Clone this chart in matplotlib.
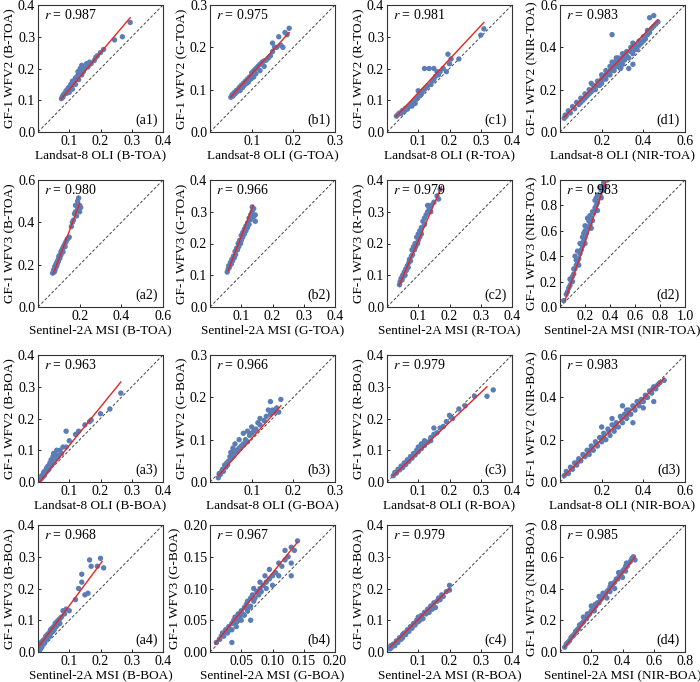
import numpy as np
import matplotlib
matplotlib.use('Agg')
from matplotlib import pyplot as plt
from matplotlib.ticker import FuncFormatter

plt.rcParams['font.family'] = ['Liberation Serif', 'DejaVu Serif']
plt.rcParams['mathtext.fontset'] = 'stix'

# scatter points, one list per panel
a1_pts = [(0.075,0.105),(0.078,0.112),(0.08,0.11),(0.082,0.118),(0.085,0.12),(0.088,0.125),(0.09,0.13),(0.092,0.122),(0.095,0.135),(0.098,0.14),(0.10,0.14),(0.10,0.125),(0.105,0.15),(0.108,0.145),(0.11,0.16),(0.11,0.135),(0.115,0.155),(0.118,0.165),(0.12,0.17),(0.12,0.15),(0.125,0.175),(0.128,0.19),(0.13,0.165),(0.13,0.185),(0.135,0.2),(0.14,0.18),(0.14,0.21),(0.145,0.19),(0.15,0.2),(0.155,0.215),(0.16,0.205),(0.165,0.22),(0.17,0.215),(0.18,0.225),(0.185,0.235),(0.19,0.24),(0.20,0.25),(0.21,0.26),(0.245,0.29),(0.27,0.30),(0.295,0.345)]
b1_pts = [(0.05,0.082),(0.053,0.088),(0.055,0.085),(0.058,0.093),(0.06,0.09),(0.063,0.098),(0.065,0.095),(0.068,0.1),(0.07,0.105),(0.072,0.098),(0.075,0.11),(0.078,0.105),(0.08,0.115),(0.082,0.11),(0.085,0.12),(0.088,0.115),(0.09,0.125),(0.092,0.118),(0.095,0.13),(0.098,0.125),(0.1,0.14),(0.1,0.128),(0.105,0.145),(0.105,0.13),(0.11,0.15),(0.11,0.138),(0.115,0.155),(0.12,0.16),(0.12,0.145),(0.125,0.165),(0.13,0.168),(0.13,0.155),(0.135,0.17),(0.14,0.175),(0.145,0.18),(0.15,0.19),(0.15,0.21),(0.155,0.2),(0.16,0.2),(0.165,0.225),(0.17,0.205),(0.175,0.2),(0.18,0.235),(0.185,0.23),(0.19,0.245)]
c1_pts = [(0.03,0.05),(0.035,0.055),(0.04,0.06),(0.045,0.058),(0.05,0.068),(0.055,0.065),(0.06,0.075),(0.065,0.072),(0.07,0.08),(0.075,0.085),(0.08,0.09),(0.08,0.082),(0.085,0.095),(0.09,0.1),(0.09,0.09),(0.095,0.105),(0.1,0.11),(0.1,0.13),(0.105,0.115),(0.11,0.12),(0.115,0.13),(0.12,0.135),(0.12,0.2),(0.125,0.14),(0.13,0.145),(0.135,0.2),(0.14,0.15),(0.145,0.16),(0.15,0.165),(0.15,0.2),(0.155,0.175),(0.16,0.19),(0.165,0.18),(0.17,0.19),(0.18,0.2),(0.19,0.19),(0.195,0.245),(0.2,0.215),(0.205,0.23),(0.23,0.23),(0.3,0.305),(0.31,0.325)]
d1_pts = [(0.02,0.065),(0.025,0.08),(0.03,0.075),(0.04,0.1),(0.05,0.09),(0.06,0.12),(0.07,0.11),(0.08,0.14),(0.09,0.13),(0.1,0.16),(0.11,0.15),(0.12,0.18),(0.13,0.17),(0.14,0.2),(0.15,0.19),(0.16,0.22),(0.17,0.2),(0.18,0.24),(0.19,0.22),(0.2,0.27),(0.2,0.23),(0.21,0.25),(0.22,0.29),(0.22,0.25),(0.23,0.27),(0.24,0.31),(0.24,0.27),(0.25,0.29),(0.25,0.46),(0.26,0.33),(0.26,0.29),(0.27,0.31),(0.28,0.35),(0.28,0.31),(0.29,0.33),(0.3,0.37),(0.3,0.32),(0.31,0.34),(0.32,0.38),(0.33,0.35),(0.33,0.3),(0.34,0.4),(0.35,0.37),(0.35,0.32),(0.36,0.41),(0.37,0.39),(0.38,0.43),(0.39,0.42),(0.4,0.45),(0.41,0.44),(0.42,0.48),(0.43,0.47),(0.43,0.54),(0.45,0.5),(0.45,0.55),(0.47,0.52),
          (0.1,0.14),(0.12,0.16),(0.14,0.18),(0.16,0.2),(0.18,0.22),(0.2,0.25),(0.22,0.27),(0.24,0.29),(0.26,0.31),(0.28,0.33),(0.3,0.35),(0.32,0.36),(0.34,0.38),(0.36,0.39),(0.38,0.41),(0.4,0.43),(0.42,0.46),(0.44,0.49),(0.46,0.51),(0.15,0.23),(0.25,0.33),(0.35,0.42),(0.27,0.35),(0.29,0.3)]
a2_pts = [(0.07,0.16),(0.075,0.175),(0.078,0.165),(0.08,0.19),(0.082,0.175),(0.085,0.2),(0.088,0.19),(0.09,0.21),(0.092,0.2),(0.095,0.22),(0.098,0.215),(0.1,0.23),(0.1,0.24),(0.105,0.245),(0.105,0.23),(0.11,0.26),(0.11,0.245),(0.115,0.27),(0.12,0.28),(0.12,0.26),(0.125,0.29),(0.13,0.3),(0.13,0.285),(0.135,0.31),(0.14,0.32),(0.145,0.325),(0.15,0.33),(0.16,0.38),(0.165,0.4),(0.17,0.41),(0.175,0.44),(0.18,0.45),(0.185,0.43),(0.19,0.47),(0.19,0.5),(0.2,0.45),(0.2,0.48),(0.205,0.47),(0.195,0.515),(0.18,0.48)]
b2_pts = [(0.055,0.11),(0.058,0.12),(0.06,0.13),(0.062,0.125),(0.065,0.14),(0.068,0.135),(0.07,0.15),(0.072,0.145),(0.075,0.16),(0.078,0.155),(0.08,0.175),(0.082,0.165),(0.085,0.185),(0.088,0.18),(0.09,0.2),(0.092,0.19),(0.095,0.21),(0.098,0.2),(0.1,0.225),(0.1,0.21),(0.105,0.235),(0.105,0.22),(0.11,0.245),(0.11,0.23),(0.115,0.255),(0.115,0.24),(0.12,0.265),(0.12,0.25),(0.125,0.28),(0.125,0.26),(0.13,0.29),(0.13,0.275),(0.135,0.3),(0.135,0.315),(0.14,0.31),(0.14,0.285),(0.145,0.29),(0.145,0.27)]
c2_pts = [(0.04,0.07),(0.042,0.08),(0.045,0.09),(0.048,0.085),(0.05,0.1),(0.052,0.095),(0.055,0.11),(0.058,0.1),(0.06,0.12),(0.062,0.115),(0.065,0.13),(0.068,0.125),(0.07,0.14),(0.072,0.15),(0.075,0.145),(0.078,0.16),(0.08,0.18),(0.082,0.165),(0.085,0.19),(0.088,0.18),(0.09,0.2),(0.092,0.19),(0.095,0.22),(0.098,0.2),(0.1,0.23),(0.1,0.21),(0.105,0.24),(0.105,0.22),(0.11,0.25),(0.11,0.23),(0.115,0.27),(0.12,0.28),(0.12,0.26),(0.125,0.29),(0.13,0.3),(0.13,0.32),(0.135,0.31),(0.14,0.32),(0.14,0.3),(0.15,0.33),(0.16,0.35),(0.17,0.37),(0.165,0.34)]
d2_pts = [(0.03,0.05),(0.05,0.1),(0.06,0.12),(0.07,0.15),(0.08,0.17),(0.09,0.2),(0.1,0.24),(0.11,0.26),(0.12,0.3),(0.13,0.33),(0.14,0.36),(0.15,0.38),(0.16,0.42),(0.17,0.45),(0.18,0.48),(0.18,0.55),(0.19,0.52),(0.2,0.55),(0.2,0.6),(0.21,0.58),(0.22,0.62),(0.23,0.63),(0.24,0.65),(0.25,0.7),(0.26,0.68),(0.27,0.74),(0.28,0.78),(0.29,0.8),(0.3,0.82),(0.31,0.86),(0.32,0.88),(0.33,0.92),(0.34,0.95),(0.35,0.98),(0.36,0.95),(0.38,1.0),(0.12,0.4),(0.14,0.44),(0.16,0.5),(0.2,0.64),(0.22,0.7),(0.24,0.72),(0.28,0.84),(0.3,0.88),(0.32,0.94),(0.1,0.2),(0.15,0.33),(0.2,0.5),(0.25,0.62),(0.3,0.76),
          (0.08,0.22),(0.11,0.3),(0.13,0.37),(0.17,0.5),(0.19,0.58),(0.23,0.68),(0.26,0.75),(0.29,0.86),(0.33,0.86),(0.35,0.92)]
a3_pts = [(0.005,0.005),(0.01,0.01),(0.012,0.02),(0.015,0.015),(0.018,0.03),(0.02,0.02),(0.022,0.035),(0.025,0.03),(0.028,0.045),(0.03,0.035),(0.032,0.05),(0.035,0.04),(0.038,0.06),(0.04,0.05),(0.042,0.07),(0.045,0.055),(0.048,0.08),(0.05,0.065),(0.05,0.09),(0.055,0.07),(0.06,0.085),(0.06,0.1),(0.065,0.08),(0.07,0.1),(0.075,0.09),(0.08,0.11),(0.09,0.16),(0.09,0.11),(0.1,0.13),(0.12,0.15),(0.13,0.16),(0.15,0.18),(0.165,0.19),(0.17,0.195),(0.2,0.215),(0.23,0.23),(0.265,0.28)]
b3_pts = [(0.02,0.01),(0.022,0.02),(0.025,0.018),(0.028,0.025),(0.03,0.03),(0.032,0.025),(0.035,0.04),(0.038,0.035),(0.04,0.045),(0.042,0.04),(0.045,0.05),(0.048,0.06),(0.05,0.055),(0.05,0.07),(0.055,0.06),(0.055,0.08),(0.06,0.07),(0.06,0.09),(0.065,0.075),(0.07,0.08),(0.07,0.1),(0.075,0.085),(0.08,0.09),(0.08,0.115),(0.085,0.1),(0.09,0.095),(0.09,0.12),(0.095,0.11),(0.1,0.115),(0.1,0.13),(0.105,0.12),(0.11,0.125),(0.115,0.14),(0.12,0.135),(0.12,0.15),(0.13,0.145),(0.135,0.155),(0.14,0.17),(0.145,0.16),(0.15,0.17),(0.155,0.165),(0.16,0.175),(0.165,0.165),(0.17,0.195),(0.145,0.19)]
c3_pts = [(0.02,0.02),(0.025,0.03),(0.03,0.028),(0.035,0.04),(0.04,0.038),(0.045,0.05),(0.05,0.045),(0.055,0.06),(0.06,0.055),(0.065,0.07),(0.07,0.065),(0.075,0.08),(0.08,0.075),(0.085,0.09),(0.09,0.085),(0.095,0.1),(0.1,0.095),(0.1,0.11),(0.11,0.105),(0.11,0.12),(0.12,0.115),(0.12,0.13),(0.13,0.125),(0.14,0.14),(0.14,0.13),(0.15,0.15),(0.15,0.17),(0.16,0.155),(0.17,0.17),(0.18,0.175),(0.19,0.19),(0.2,0.21),(0.21,0.2),(0.23,0.23),(0.25,0.24),(0.28,0.27),(0.32,0.27),(0.34,0.29)]
d3_pts = [(0.02,0.03),(0.03,0.05),(0.04,0.04),(0.05,0.07),(0.06,0.06),(0.07,0.09),(0.08,0.08),(0.09,0.11),(0.1,0.1),(0.11,0.13),(0.12,0.12),(0.13,0.15),(0.14,0.13),(0.15,0.17),(0.16,0.15),(0.17,0.19),(0.18,0.17),(0.19,0.21),(0.2,0.19),(0.21,0.23),(0.22,0.2),(0.23,0.25),(0.24,0.22),(0.25,0.27),(0.26,0.24),(0.27,0.28),(0.28,0.26),(0.29,0.31),(0.3,0.28),(0.31,0.32),(0.32,0.3),(0.33,0.34),(0.34,0.32),(0.35,0.36),(0.36,0.34),(0.37,0.38),(0.38,0.36),(0.39,0.39),(0.4,0.38),(0.41,0.41),(0.42,0.4),(0.43,0.43),(0.44,0.42),(0.45,0.45),(0.46,0.44),(0.48,0.47),(0.5,0.48),(0.3,0.36),(0.2,0.26),(0.35,0.28),(0.45,0.38),
          (0.055,0.065),(0.085,0.095),(0.115,0.125),(0.145,0.15),(0.175,0.18),(0.205,0.21),(0.235,0.24),(0.265,0.26),(0.295,0.3),(0.325,0.32),(0.355,0.35),(0.385,0.38),(0.415,0.4),(0.445,0.44),(0.47,0.46),(0.25,0.3),(0.32,0.34),(0.4,0.35)]
a4_pts = [(0.005,0.005),(0.005,0.02),(0.008,0.01),(0.01,0.03),(0.012,0.015),(0.015,0.035),(0.018,0.025),(0.02,0.04),(0.022,0.03),(0.025,0.05),(0.028,0.04),(0.03,0.055),(0.032,0.045),(0.035,0.06),(0.038,0.05),(0.04,0.07),(0.042,0.06),(0.045,0.075),(0.048,0.065),(0.05,0.08),(0.052,0.07),(0.055,0.09),(0.058,0.08),(0.06,0.095),(0.062,0.085),(0.065,0.1),(0.07,0.105),(0.07,0.09),(0.075,0.11),(0.08,0.13),(0.085,0.12),(0.09,0.135),(0.1,0.13),(0.12,0.165),(0.13,0.2),(0.14,0.22),(0.14,0.245),(0.15,0.18),(0.16,0.185),(0.165,0.29),(0.17,0.27),(0.19,0.27),(0.2,0.295),(0.21,0.265)]
b4_pts = [(0.01,0.015),(0.015,0.02),(0.018,0.025),(0.02,0.03),(0.022,0.025),(0.025,0.035),(0.028,0.03),(0.03,0.04),(0.032,0.035),(0.035,0.045),(0.035,0.035),(0.038,0.05),(0.04,0.045),(0.04,0.055),(0.042,0.04),(0.045,0.06),(0.045,0.05),(0.048,0.055),(0.05,0.065),(0.05,0.05),(0.052,0.06),(0.055,0.07),(0.055,0.058),(0.058,0.075),(0.06,0.065),(0.06,0.08),(0.062,0.07),(0.065,0.085),(0.065,0.072),(0.068,0.09),(0.07,0.08),(0.07,0.1),(0.072,0.085),(0.075,0.095),(0.078,0.09),(0.08,0.1),(0.08,0.11),(0.082,0.095),(0.085,0.105),(0.088,0.12),(0.09,0.11),(0.09,0.1),(0.095,0.115),(0.095,0.13),(0.1,0.12),(0.1,0.105),(0.105,0.125),(0.11,0.14),(0.11,0.12),(0.115,0.135),(0.12,0.145),(0.12,0.16),(0.125,0.15),(0.13,0.165),(0.135,0.16),(0.14,0.175),(0.13,0.14),(0.065,0.05),(0.035,0.015),(0.13,0.12)]
c4_pts = [(0.01,0.01),(0.012,0.02),(0.015,0.015),(0.02,0.025),(0.025,0.02),(0.03,0.035),(0.035,0.03),(0.04,0.045),(0.045,0.04),(0.05,0.055),(0.05,0.045),(0.055,0.06),(0.06,0.055),(0.065,0.07),(0.07,0.065),(0.075,0.08),(0.08,0.075),(0.085,0.09),(0.09,0.085),(0.095,0.1),(0.1,0.095),(0.1,0.11),(0.105,0.1),(0.11,0.115),(0.115,0.105),(0.12,0.125),(0.125,0.12),(0.13,0.135),(0.135,0.125),(0.14,0.145),(0.145,0.135),(0.15,0.155),(0.155,0.14),(0.16,0.16),(0.165,0.17),(0.17,0.165),(0.175,0.18),(0.18,0.175),(0.19,0.19),(0.2,0.21),(0.2,0.195)]
d4_pts = [(0.03,0.03),(0.04,0.05),(0.05,0.06),(0.06,0.07),(0.07,0.09),(0.08,0.1),(0.09,0.11),(0.1,0.13),(0.11,0.14),(0.12,0.15),(0.13,0.17),(0.14,0.18),(0.15,0.19),(0.16,0.21),(0.17,0.21),(0.18,0.23),(0.19,0.24),(0.2,0.26),(0.21,0.26),(0.22,0.28),(0.23,0.29),(0.24,0.31),(0.25,0.31),(0.26,0.33),(0.27,0.34),(0.28,0.36),(0.29,0.36),(0.3,0.38),(0.31,0.39),(0.32,0.41),(0.33,0.41),(0.34,0.43),(0.35,0.44),(0.36,0.46),(0.37,0.46),(0.38,0.48),(0.39,0.49),(0.4,0.51),(0.41,0.52),(0.42,0.54),(0.43,0.54),(0.44,0.56),(0.45,0.57),(0.46,0.59),(0.47,0.6),(0.48,0.58),(0.2,0.29),(0.25,0.35),(0.3,0.34),(0.35,0.4),(0.15,0.22),(0.4,0.47),
          (0.125,0.17),(0.175,0.24),(0.225,0.3),(0.275,0.37),(0.325,0.43),(0.375,0.5),(0.425,0.56),(0.22,0.26),(0.32,0.38),(0.42,0.51)]

# fitted line end points (x0, y0, x1, y1)
a1_fit = (0.075, 0.105, 0.295, 0.36)
b1_fit = (0.05, 0.083, 0.19, 0.235)
c1_fit = (0.03, 0.05, 0.31, 0.345)
d1_fit = (0.02, 0.07, 0.47, 0.53)
a2_fit = (0.075, 0.16, 0.2, 0.49)
b2_fit = (0.058, 0.115, 0.138, 0.32)
c2_fit = (0.04, 0.07, 0.175, 0.38)
d2_fit = (0.04, 0.05, 0.37, 1.0)
a3_fit = (0.005, 0.0, 0.265, 0.315)
b3_fit = (0.02, 0.015, 0.17, 0.18)
c3_fit = (0.02, 0.02, 0.32, 0.3)
d3_fit = (0.02, 0.03, 0.5, 0.49)
a4_fit = (0.005, 0.02, 0.205, 0.285)
b4_fit = (0.008, 0.013, 0.14, 0.173)
c4_fit = (0.01, 0.015, 0.2, 0.2)
d4_fit = (0.03, 0.03, 0.48, 0.6)

tags = ['a1','b1','c1','d1','a2','b2','c2','d2','a3','b3','c3','d3','a4','b4','c4','d4']
r_vals = ['0.987','0.975','0.981','0.983','0.980','0.966','0.979','0.983',
          '0.963','0.966','0.979','0.983','0.968','0.967','0.979','0.985']
bands = ['B-TOA','G-TOA','R-TOA','NIR-TOA','B-TOA','G-TOA','R-TOA','NIR-TOA',
         'B-BOA','G-BOA','R-BOA','NIR-BOA','B-BOA','G-BOA','R-BOA','NIR-BOA']
x_sensor = ['Landsat-8 OLI','Sentinel-2A MSI','Landsat-8 OLI','Sentinel-2A MSI']
y_sensor = ['GF-1 WFV2','GF-1 WFV3','GF-1 WFV2','GF-1 WFV3']
ax_max = [0.4,0.3,0.4,0.6, 0.6,0.4,0.4,1.0, 0.4,0.3,0.4,0.6, 0.4,0.2,0.4,0.8]
ax_step = [0.1,0.1,0.1,0.2, 0.2,0.1,0.1,0.2, 0.1,0.1,0.1,0.2, 0.1,0.05,0.1,0.2]

pts_all = [a1_pts,b1_pts,c1_pts,d1_pts,a2_pts,b2_pts,c2_pts,d2_pts,
           a3_pts,b3_pts,c3_pts,d3_pts,a4_pts,b4_pts,c4_pts,d4_pts]
fit_all = [a1_fit,b1_fit,c1_fit,d1_fit,a2_fit,b2_fit,c2_fit,d2_fit,
           a3_fit,b3_fit,c3_fit,d3_fit,a4_fit,b4_fit,c4_fit,d4_fit]

W, H = 700, 682
fig = plt.figure(figsize=(W/100, H/100), dpi=100)
lefts = [38, 210, 387, 560]
tops = [5, 180, 355, 525]
aw, ah = 125, 127

for i in range(16):
    row, col = i // 4, i % 4
    ax = fig.add_axes([lefts[col]/W, 1 - (tops[row]+ah)/H, aw/W, ah/H])
    m = ax_max[i]
    pts = np.array(pts_all[i])
    ax.plot([0, m], [0, m], color='#444444', ls=(0, (3, 2)), lw=0.7, zorder=1)
    ax.scatter(pts[:, 0], pts[:, 1], s=15, color='#5a7db8', edgecolors='none', zorder=2)
    x0, y0, x1, y1 = fit_all[i]
    ax.plot([x0, x1], [y0, y1], color='#e8251f', lw=1.0, zorder=3)
    ax.set_xlim(0, m)
    ax.set_ylim(0, m)
    ticks = np.arange(0, m + ax_step[i]/2, ax_step[i])
    ax.set_xticks(ticks)
    ax.set_yticks(ticks)
    nd = 2 if ax_step[i] < 0.1 else 1
    ax.yaxis.set_major_formatter(FuncFormatter(lambda v, p, nd=nd: f'{v:.{nd}f}'))
    ax.xaxis.set_major_formatter(FuncFormatter(lambda v, p, nd=nd: '' if abs(v) < 1e-9 else f'{v:.{nd}f}'))
    ax.tick_params(direction='in', length=2.5, width=0.6, labelsize=10, pad=2)
    for s in ax.spines.values():
        s.set_linewidth(0.8)
        s.set_color('#333333')
    ax.set_xlabel(f'{x_sensor[row]} ({bands[i]})', fontsize=9.5, labelpad=1)
    ax.set_ylabel(f'{y_sensor[row]} ({bands[i]})', fontsize=9.5, labelpad=1)
    ax.text(0.05, 0.92, r'$\mathit{r}$' + f' = {r_vals[i]}', transform=ax.transAxes,
            fontsize=10, ha='left', va='center')
    ax.text(0.96, 0.04, f'({tags[i]})', transform=ax.transAxes,
            fontsize=10, ha='right', va='bottom')

fig.savefig('out.png', dpi=100)
